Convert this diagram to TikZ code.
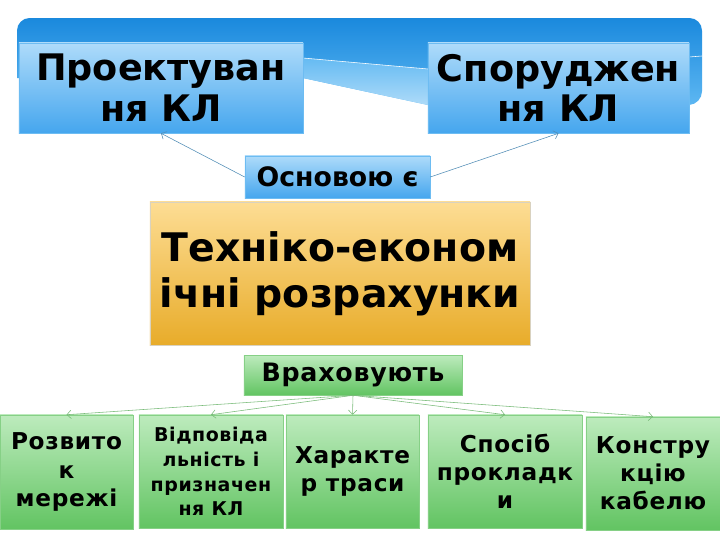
\documentclass[tikz,border=0pt]{standalone}
\usepackage{fontspec}
\setmainfont{DejaVu Sans}
\newfontfamily\widefont[LetterSpace=3]{DejaVu Sans}
\usetikzlibrary{arrows.meta}

\begin{document}
\begin{tikzpicture}[x=0.025cm,y=-0.025cm,>={Straight Barb[length=3pt,width=6pt]},
  bluebox/.style={draw=cBlueLine,top color=cBlueTop,bottom color=cBlueBot,
    align=center,inner sep=0pt,font=\bfseries},
  orangebox/.style={draw=cOrangeLine,top color=cOrangeTop,bottom color=cOrangeBot,
    align=center,inner sep=0pt,font=\bfseries\fontsize{28}{33}\selectfont},
  greenbox/.style={draw=cGreenLine,top color=cGreenTop,bottom color=cGreenBot,
    align=center,inner sep=0pt},
  smalltext/.style={font=\widefont\bfseries\fontsize{16.5}{20}\selectfont},
  bluelink/.style={->,cBlueLine!75!black,thin},
  greenlink/.style={->,cGreenLine!90!black,thin}]

% colors
\definecolor{cBand1}{HTML}{1A89DD}
\definecolor{cBand2}{HTML}{5DB7F2}
\definecolor{cBlueTop}{HTML}{AEDBFA}
\definecolor{cBlueBot}{HTML}{45A6EE}
\definecolor{cBlueLine}{HTML}{6DBCF2}
\definecolor{cOrangeTop}{HTML}{FDDD94}
\definecolor{cOrangeBot}{HTML}{E8AC2A}
\definecolor{cOrangeLine}{HTML}{D9D2C0}
\definecolor{cGreenTop}{HTML}{BDEBBD}
\definecolor{cGreenBot}{HTML}{62C462}
\definecolor{cGreenLine}{HTML}{86D086}

\useasboundingbox (0,0) rectangle (720,540);

% ribbon behind the two upper boxes
\shade[top color=cBand1,bottom color=cBand2]
  (17,78) [rounded corners=9pt] -- (17,18) -- (702,18) -- (702,104)
  [sharp corners] -- (689,105) -- (428,105) -- (303,78) -- cycle;
\shade[top color=cBand2!95!white,bottom color=cBand2!50!white]
  (303,58) -- (428,69) -- (428,105) -- (303,78) -- cycle;
\draw[white,thin] (303,58) -- (428,69);
\draw[white,thin] (689,57) -- (702,56);

% upper boxes
\node[bluebox,minimum width=7.1cm,minimum height=2.25cm,
  font=\bfseries\fontsize{26}{29}\selectfont] (proj) at (161,88) {Проектуван\\ня КЛ};
\node[bluebox,minimum width=6.525cm,minimum height=2.25cm,
  font=\bfseries\fontsize{26}{29}\selectfont] (spor) at (558.5,88) {Споруджен\\ня КЛ};
\node[bluebox,minimum width=4.625cm,minimum height=1.05cm,
  font=\bfseries\fontsize{19}{22}\selectfont] (osn) at (337.5,177) {Основою є};

\draw[bluelink] (osn.west) -- (proj.south);
\draw[bluelink] (osn.east) -- (spor.south);

% central box
\node[orangebox,minimum width=9.5cm,minimum height=3.575cm] (tech) at (340,273.5)
  {Техніко-економ\\ічні розрахунки};

\node[greenbox,minimum width=5.45cm,minimum height=1cm,
  font=\widefont\bfseries\fontsize{18}{20}\selectfont] (vrah) at (353,375) {Враховують};

% lower boxes
\node[greenbox,smalltext,minimum width=3.325cm,minimum height=2.85cm] (rozv) at (66.5,472)
  {Розвито\\к\\мережі};
\node[greenbox,minimum width=3.6cm,minimum height=2.825cm,
  font=\widefont\bfseries\fontsize{13.5}{17.5}\selectfont] (vidp) at (211,471.5)
  {Відповіда\\льність і\\призначен\\ня КЛ};
\node[greenbox,smalltext,minimum width=3.325cm,minimum height=2.825cm] (khar) at (352.5,471.5)
  {Характе\\р траси};
\node[greenbox,smalltext,minimum width=3.85cm,minimum height=2.825cm] (spos) at (505,471.5)
  {Спосіб\\прокладк\\и};
\node[greenbox,smalltext,minimum width=3.35cm,minimum height=2.825cm] (kons) at (653,473.5)
  {Констру\\кцію\\кабелю};

\foreach \t in {rozv,vidp,khar,spos,kons}
  \draw[greenlink] (vrah.south) -- (\t.north);

\end{tikzpicture}
\end{document}
